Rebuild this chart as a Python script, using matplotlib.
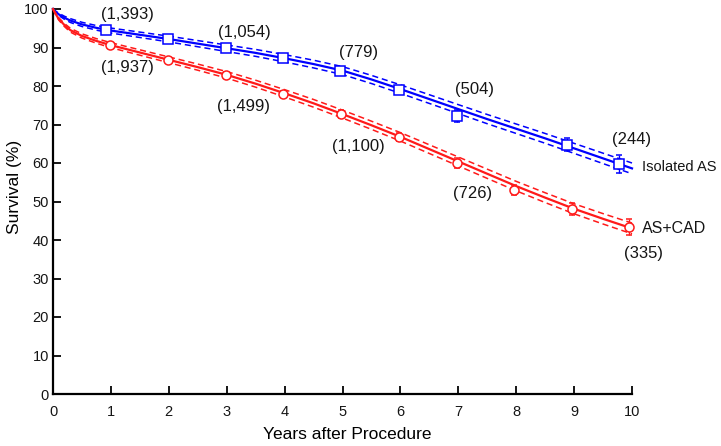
import matplotlib
matplotlib.use("Agg")
import matplotlib.pyplot as plt

plt.rcParams['font.family'] = ['Liberation Sans', 'DejaVu Sans']

# Fitted survival curves
t_curve = [0, 0.05, 0.1, 0.2, 0.3, 0.5, 0.75, 1, 1.5, 2, 2.5, 3, 3.5, 4, 4.5,
           5, 5.5, 6, 6.5, 7, 7.5, 8, 8.5, 9, 9.5, 10]
iso_curve = [100, 99.2, 98.6, 97.7, 97.0, 96.0, 95.1, 94.4, 93.3, 92.2, 91.0,
             89.8, 88.6, 87.2, 85.7, 84.0, 81.7, 79.2, 76.6, 74.0, 71.4, 68.9,
             66.4, 63.8, 61.2, 58.6]
cad_curve = [100, 98.6, 97.4, 95.8, 94.5, 93.0, 91.7, 90.6, 88.7, 86.8, 84.9,
             82.9, 80.6, 78.1, 75.5, 72.7, 69.8, 66.8, 63.6, 60.4, 57.2, 54.0,
             51.0, 48.1, 45.5, 43.0]
iso_ci = [0, 0.2, 0.3, 0.4, 0.5, 0.55, 0.6, 0.65, 0.7, 0.75, 0.8, 0.85, 0.9,
          0.95, 1.0, 1.03, 1.06, 1.1, 1.13, 1.16, 1.2, 1.23, 1.27, 1.3, 1.35, 1.4]
cad_ci = [0, 0.2, 0.3, 0.4, 0.5, 0.55, 0.6, 0.65, 0.7, 0.75, 0.8, 0.85, 0.9,
          0.95, 1.0, 1.03, 1.06, 1.1, 1.13, 1.16, 1.2, 1.23, 1.27, 1.3, 1.35, 1.4]

# Observed (actuarial) points
iso_t = [0.92, 1.98, 2.98, 3.97, 4.96, 5.97, 6.98, 8.88, 9.78]
iso_y = [94.5, 92.2, 89.9, 87.3, 83.9, 79.0, 72.2, 64.7, 59.7]
iso_err = [0.5, 0.6, 0.7, 0.8, 1.0, 1.1, 1.5, 1.7, 2.3]
cad_t = [0.98, 1.98, 2.98, 3.98, 4.98, 5.97, 6.98, 7.97, 8.97, 9.95]
cad_y = [90.6, 86.8, 82.9, 77.9, 72.7, 66.8, 60.0, 53.0, 48.0, 43.4]
cad_err = [0.5, 0.6, 0.7, 0.8, 1.0, 1.1, 1.3, 1.4, 1.6, 2.0]

# Numbers at risk
iso_risk_labels = ["(1,393)", "(1,054)", "(779)", "(504)", "(244)"]
iso_risk_pos = [(1.28, 98.7), (3.31, 94.0), (5.28, 88.6), (7.28, 79.0), (10.0, 66.2)]
cad_risk_labels = ["(1,937)", "(1,499)", "(1,100)", "(726)", "(335)"]
cad_risk_pos = [(1.28, 84.7), (3.29, 74.6), (5.28, 64.2), (7.24, 52.2), (10.19, 36.4)]

blue = '#0000ff'
red = '#ff1a1a'
txt = '#151515'

fig = plt.figure(figsize=(7.21, 4.46), dpi=100)
ax = fig.add_axes([53/721, 52/446, 579/721, 385/446])

for curve, ci, col in [(iso_curve, iso_ci, blue), (cad_curve, cad_ci, red)]:
    ax.plot(t_curve, curve, color=col, lw=1.6, clip_on=False, zorder=3)
    up = [c + d for c, d in zip(curve, ci)]
    lo = [c - d for c, d in zip(curve, ci)]
    for band in (up, lo):
        ax.plot(t_curve, band, color=col, lw=1.1, dashes=(4, 2.5), clip_on=False, zorder=3)

ax.errorbar(iso_t, iso_y, yerr=iso_err, fmt='s', ms=6.5, mfc='white', mec=blue,
            mew=1.1, ecolor=blue, elinewidth=1.0, capsize=2.5, clip_on=False, zorder=4)
ax.errorbar(cad_t, cad_y, yerr=cad_err, fmt='o', ms=6.5, mfc='white', mec=red,
            mew=1.1, ecolor=red, elinewidth=1.0, capsize=2.5, clip_on=False, zorder=4)

for lab, (x, y) in zip(iso_risk_labels, iso_risk_pos):
    ax.text(x, y, lab, ha='center', va='center', fontsize=12, color=txt, clip_on=False)
for lab, (x, y) in zip(cad_risk_labels, cad_risk_pos):
    ax.text(x, y, lab, ha='center', va='center', fontsize=12, color=txt, clip_on=False)

ax.text(10.17, 59.0, "Isolated AS", ha='left', va='center', fontsize=10.5, color=txt, clip_on=False)
ax.text(10.17, 42.9, "AS+CAD", ha='left', va='center', fontsize=11.5, color=txt, clip_on=False)

ax.set_xlim(0, 10)
ax.set_ylim(0, 100)
ax.set_xticks(range(0, 11))
ax.set_yticks(range(0, 101, 10))
for s in ['top', 'right']:
    ax.spines[s].set_visible(False)
for s in ['left', 'bottom']:
    ax.spines[s].set_linewidth(1.6)
ax.tick_params(direction='in', length=5.5, width=1.4, labelsize=10.5, colors=txt)
ax.tick_params(axis='x', pad=8)
ax.tick_params(axis='y', pad=3)
ax.set_xlabel("Years after Procedure", fontsize=12.5)
ax.set_ylabel("Survival (%)", fontsize=12.5)
ax.xaxis.set_label_coords(0.508, -0.085)
ax.yaxis.set_label_coords(-0.054, 0.538)

fig.savefig("out.png", dpi=100)
